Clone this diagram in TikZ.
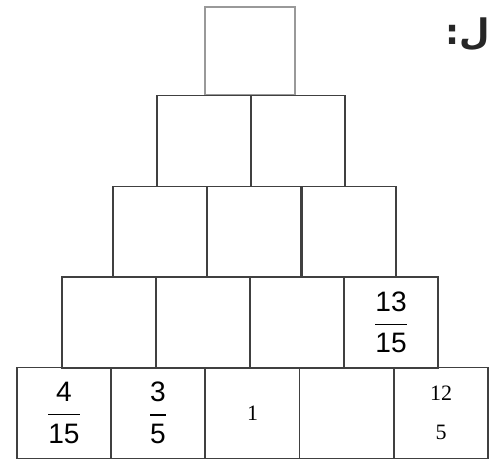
\documentclass[tikz,border=0pt]{standalone}
\usepackage{amsmath}
\usepackage{fontspec}
\setmainfont{Liberation Sans}
\newfontfamily\serifnum{Liberation Serif}
\newfontfamily\arabicfont[Script=Arabic]{DejaVu Sans}
\TeXXeTstate=1

\begin{document}
\begin{tikzpicture}[x=0.02cm, y=0.02cm,
    cell/.style={draw=black!75, line width=1pt, rectangle, minimum width=1.88cm, minimum height=1.82cm, inner sep=0pt, font=\fontsize{16}{19}\selectfont},
    small/.style={font=\serifnum\fontsize{12.5}{14}\selectfont}]
    \useasboundingbox (0, 0) rectangle (492, 462);

    % Label
    \node[anchor=east, text=black!85, font=\arabicfont\bfseries\fontsize{20}{24}\selectfont] (label) at (496, 428) {\beginR ل:\endR};

    % Top cell
    \node[cell, draw=black!40, minimum width=1.80cm, minimum height=1.76cm] (top) at (250, 411) {};

    % Second row
    \node[cell] (two1) at (204, 321) {};
    \node[cell] (two2) at (298, 321) {};

    % Third row
    \node[cell] (three1) at (160, 230) {};
    \node[cell] (three2) at (254, 230) {};
    \node[cell] (three3) at (349, 230) {};

    % Fourth row
    \node[cell] (four1) at (109, 139.5) {};
    \node[cell] (four2) at (203, 139.5) {};
    \node[cell] (four3) at (297, 139.5) {};
    \node[cell] (four4) at (391, 139.5) {$\dfrac{\text{13}}{\text{15}}$};

    % Base row
    \node[cell] (base1) at (64, 49) {$\dfrac{\text{4}}{\text{15}}$};
    \node[cell] (base2) at (158, 49) {$\dfrac{\text{3}}{\text{5}}$};
    \node[cell, small] (base3) at (252.5, 49) {1};
    \node[cell] (base4) at (346.5, 49) {};
    \node[cell, small, align=center] (base5) at (441, 49) {12\\[8pt]5};

\end{tikzpicture}
\end{document}
